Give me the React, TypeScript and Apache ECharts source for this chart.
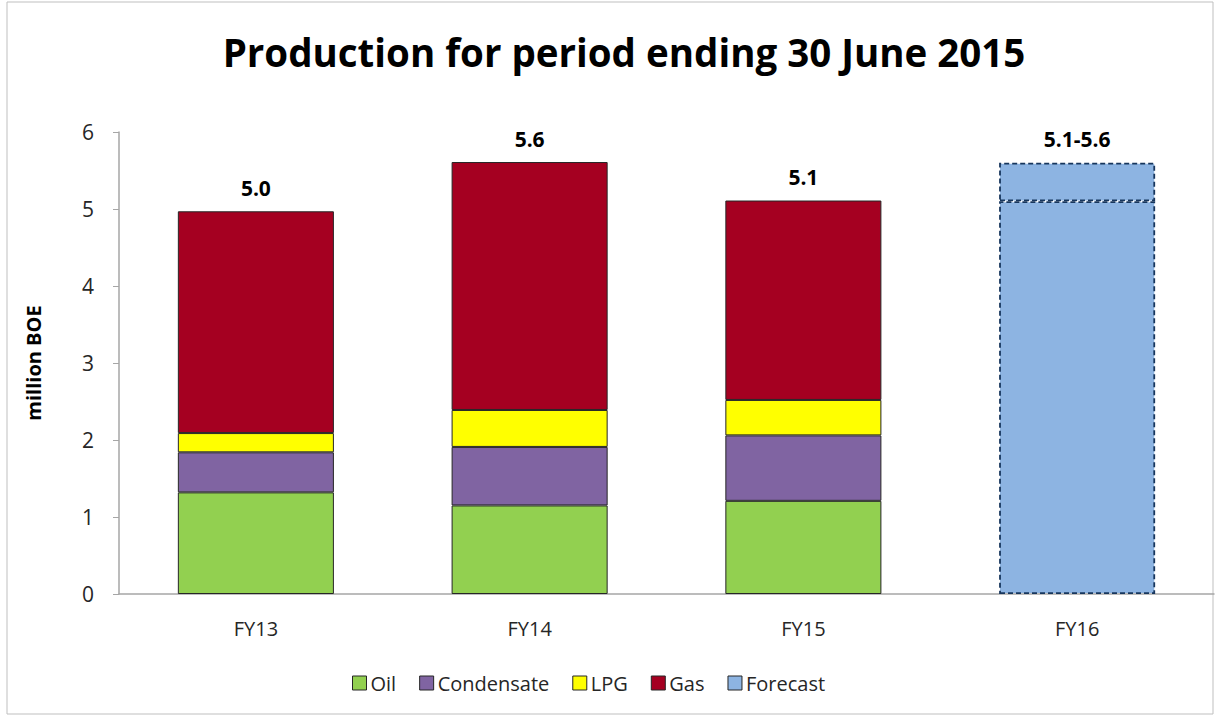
import React, { useEffect, useRef } from "react";
import * as echarts from "echarts";

const categories = ["FY13", "FY14", "FY15", "FY16"];
const oil = [1.32, 1.15, 1.21, null];
const condensate = [0.52, 0.76, 0.85, null];
const lpg = [0.25, 0.48, 0.46, null];
const gas = [2.88, 3.22, 2.59, null];
const forecastLow = [null, null, null, 5.1];
const forecastRange = [null, null, null, 0.5];
const totalLabels = ["5.0", "5.6", "5.1", "5.1-5.6"];
const yTicks = [0, 1, 2, 3, 4, 5, 6];

const FONT = "'Open Sans', sans-serif";

export default function App() {
  const ref = useRef<HTMLDivElement>(null);
  useEffect(() => {
    document.body.style.margin = "0";
    const chart = echarts.init(ref.current!, null, { renderer: "svg" });
    const border = { borderColor: "#262626", borderWidth: 1 };
    const topLabel = {
      show: true,
      position: "top" as const,
      distance: 13,
      fontFamily: FONT,
      fontWeight: "bold" as const,
      fontSize: 21,
      color: "#000",
      formatter: (p: any) => totalLabels[p.dataIndex],
    };
    const fcStyle = {
      color: "#8DB4E2",
      borderColor: "#17365D",
      borderWidth: 1.8,
      borderType: [5, 3] as any,
    };
    const legendItem = (name: string, color: string) => ({
      name,
      itemStyle: { color, borderColor: "#262626", borderWidth: 1, borderType: "solid" },
    });
    chart.setOption({
      animation: false,
      backgroundColor: "#fff",
      title: {
        text: "Production for period ending 30 June 2015",
        left: 619,
        textAlign: "center",
        top: 27,
        textStyle: { fontFamily: FONT, fontWeight: "bold", fontSize: 38.5, color: "#000" },
      },
      graphic: [
        {
          type: "rect",
          shape: { x: 7, y: 2, width: 1206, height: 712 },
          style: { fill: "none", stroke: "#BFBFBF", lineWidth: 1 },
          silent: true,
        },
      ],
      legend: {
        top: 668,
        left: 347,
        itemWidth: 14,
        itemHeight: 14,
        itemGap: 23,
        icon: "rect",
        textStyle: { fontFamily: FONT, fontSize: 20, color: "#262626", padding: [0, 0, 0, -1] },
        data: [
          legendItem("Oil", "#92D050"),
          legendItem("Condensate", "#8064A2"),
          legendItem("LPG", "#FFFF00"),
          legendItem("Gas", "#A50021"),
          legendItem("Forecast", "#8DB4E2"),
        ],
      },
      grid: { left: 119, right: 1, top: 132, bottom: 123, containLabel: false },
      xAxis: {
        type: "category",
        data: categories,
        axisLine: { lineStyle: { color: "#A6A6A6", width: 1.5 } },
        axisTick: { show: false },
        axisLabel: { fontFamily: FONT, fontSize: 20, color: "#262626", margin: 24 },
      },
      yAxis: {
        type: "value",
        min: yTicks[0],
        max: yTicks[yTicks.length - 1],
        interval: 1,
        name: "million BOE",
        nameLocation: "middle",
        nameGap: 76,
        nameTextStyle: { fontFamily: FONT, fontWeight: "bold", fontSize: 20, color: "#000" },
        axisLine: { show: true, lineStyle: { color: "#A6A6A6", width: 1.5 } },
        axisTick: { show: true, length: 6, lineStyle: { color: "#A6A6A6" } },
        splitLine: { show: false },
        axisLabel: { fontFamily: FONT, fontSize: 21, color: "#262626", margin: 25 },
      },
      series: [
        { name: "Oil", type: "bar", stack: "t", data: oil, barWidth: "57%", itemStyle: { color: "#92D050", ...border } },
        { name: "Condensate", type: "bar", stack: "t", data: condensate, itemStyle: { color: "#8064A2", ...border } },
        { name: "LPG", type: "bar", stack: "t", data: lpg, itemStyle: { color: "#FFFF00", ...border } },
        { name: "Gas", type: "bar", stack: "t", data: gas, itemStyle: { color: "#A50021", ...border }, label: topLabel },
        { name: "Forecast", type: "bar", stack: "t", data: forecastLow, itemStyle: fcStyle },
        { name: "Forecast", type: "bar", stack: "t", data: forecastRange, itemStyle: fcStyle, label: topLabel },
      ],
    });
    return () => chart.dispose();
  }, []);
  return <div ref={ref} style={{ width: 1215, height: 717 }} />;
}
